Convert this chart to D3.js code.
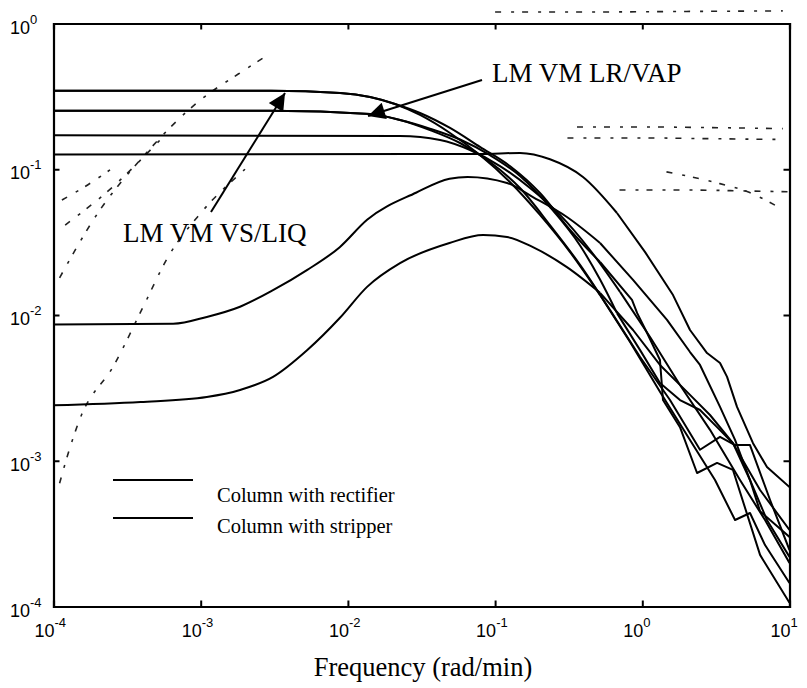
<!DOCTYPE html>
<html><head><meta charset="utf-8">
<script src="https://cdn.jsdelivr.net/npm/d3@7"></script>
<style>body{margin:0;background:#fff}svg{display:block}</style>
</head><body>
<svg id="c" width="807" height="688"></svg>
<script>
// ---- data ----
const xTicks = [1e-4, 1e-3, 1e-2, 1e-1, 1e0, 1e1];
const xTickExp = ["-4", "-3", "-2", "-1", "0", "1"];
const yTicks = [1e-4, 1e-3, 1e-2, 1e-1, 1e0];
const yTickExp = ["-4", "-3", "-2", "-1", "0"];
const xLabel = "Frequency (rad/min)";
const legendLabels = ["Column with rectifier", "Column with stripper"];
const noteVS = "LM VM VS/LIQ";
const noteLR = "LM VM LR/VAP";

const curveA = [[1e-4,.345],[3e-3,.345],[0.00884,.3334],[0.01413,.3131],[0.0209,.2804],[0.0309,.2357],[0.0494,.1773],[0.0789,.1253],[0.126,.0818],[0.2018,.0486],[0.323,.027],[0.5164,.0137],[0.826,.00653],[1.318,.00297],[2.109,.00139],[3.119,.000738],[4.266,.000392],[5.39,.000438],[6.82,.000264],[10,.000145]];
const curveB = [[1e-4,.252],[3e-3,.252],[0.01413,.2394],[0.0226,.2178],[0.0361,.1858],[0.0578,.1514],[0.0923,.1121],[0.1476,.0744],[0.236,.0414],[0.3776,.0221],[0.604,.0108],[0.966,.00515],[1.542,.00261],[2.466,.00119],[3.373,.00146],[4.266,.00128],[5.39,.00128],[7.38,.000538],[10,.000244]];
const curveC = [[1e-4,.171],[0.0226,.169],[0.0423,.1588],[0.0676,.1355],[0.108,.1052],[0.1726,.0744],[0.276,.0486],[0.4416,.0279],[0.706,.0144],[1.129,.00707],[1.803,.00331],[2.884,.00163],[4.61,.000738],[6.82,.000392],[10,.000199]];
const curveD = [[1e-4,.126],[0.0309,.1273],[0.0789,.1273],[0.1476,.1294],[0.236,.117],[0.3954,.0885],[0.673,.0501],[1.045,.027],[1.617,.0137],[2.109,.00789],[2.753,.00548],[3.373,.00469],[3.766,.00376],[4.40,.00234],[5.65,.00132],[7.03,.000906],[10,.00066]];
const curveE = [[1e-4,.0086],[6.5e-4,.0087],[1.1e-3,.0097],[1.85e-3,.0114],[3.1e-3,.0148],[5.3e-3,.0204],[8.8e-3,.0292],[0.0135,.045],[0.029,.069],[0.049,.086],[0.065,.0885],[0.1205,.0805],[0.1807,.0645],[0.3076,.047],[0.5164,.0312],[0.865,.0174],[1.472,.00925],[2.109,.00557],[2.466,.00454],[3.373,.00234],[4.266,.00139],[5.39,.000738],[6.31,.00045],[10,.0003]];
const curveF = [[1e-4,.0024],[3.9e-4,.00253],[1.1e-3,.00274],[1.85e-3,.00306],[3.1e-3,.00376],[5.3e-3,.00575],[8.8e-3,.00953],[0.0135,.0156],[0.0226,.0227],[0.049,.0312],[0.083,.0354],[0.1205,.0343],[0.1807,.0292],[0.3076,.0213],[0.5164,.0142],[0.865,.00789],[1.318,.00454],[2.109,.00283],[2.884,.00206],[4.13,.00132],[6.31,.00063],[10,.000335]];
const curveG = [[1e-4,.345],[3e-3,.345],[0.00884,.3334],[0.01413,.3131],[0.0209,.2804],[0.0309,.2432],[0.0494,.1919],[0.0789,.1422],[0.126,.1052],[0.2018,.0687],[0.323,.0383],[0.5164,.0231],[0.851,.0127],[0.923,.0103],[1.078,.00753],[1.318,.00491],[1.382,.00261],[1.803,.0017],[2.355,.000824],[3.22,.000966],[4.13,.000865],[6.31,.000226],[10,.000106]];
const curveH = [[1e-4,.252],[3e-3,.252],[0.01413,.2394],[0.0226,.2178],[0.0361,.19],[0.0578,.16],[0.0923,.125],[0.1476,.09],[0.236,.055],[0.3776,.03],[0.5164,.0175],[0.673,.0103],[0.966,.00574],[1.318,.00342],[1.803,.00261],[2.466,.00223],[3.22,.0017],[4.13,.00132],[5.39,.000738],[7.03,.000392],[10,.000219]];
const curves = [curveA, curveB, curveC, curveD, curveE, curveF, curveG, curveH];

// faint dashed traces (scanned grey lines)
const ghost1 = [[1.1e-4,.0007],[1.25e-4,.0011],[1.5e-4,.0019],[2.6e-4,.0046],[4e-4,.011],[6e-4,.025],[1e-3,.05],[2e-3,.1]];
const ghost2 = [[1.1e-4,.018],[2e-4,.05],[4e-4,.12],[1e-3,.3],[1.8e-3,.45],[2.8e-3,.6]];
const ghost3 = [[0.36,.195],[1,.195],[3,.193],[9,.19]];
const ghost4 = [[0.31,.164],[1,.164],[3,.162],[9,.16]];
const ghost5 = [[0.7,.072],[2,.072],[5,.071],[10,.07]];
const ghost6 = [[1.46,.096],[3,.082],[5.2,.07],[9,.053]];
const ghost7 = [[0.1,1.2],[0.5,1.2],[2,1.21],[9,1.22]];
const ghost8 = [[1.14e-4,.0615],[1.6e-4,.075],[2.42e-4,.099]];
const ghost9 = [[1.2e-4,.0414],[2.5e-4,.075],[5.3e-4,.159]];
const ghosts = [ghost1, ghost2, ghost3, ghost4, ghost5, ghost6, ghost7, ghost8, ghost9];

// split point between the smooth low-frequency part and the sampled, polygonal high-frequency part
const splitFreq = 0.8;

// ---- drawing ----
const svg = d3.select("#c");
const L = 53.5, R = 789.5, T = 23.5, B = 606.5;
const x = d3.scaleLog().domain([1e-4, 1e1]).range([L, R]);
const y = d3.scaleLog().domain([1e-4, 1e0]).range([B, T]);

const smooth = d3.line().x(d => x(d[0])).y(d => y(d[1])).curve(d3.curveMonotoneX);
const poly = d3.line().x(d => x(d[0])).y(d => y(d[1])).curve(d3.curveLinear);

svg.append("clipPath").attr("id", "plotclip").append("rect")
  .attr("x", L).attr("y", 0).attr("width", R - L).attr("height", B);

const g = svg.append("g");
g.selectAll("path.ghost").data(ghosts).join("path")
  .attr("class", "ghost").attr("d", smooth)
  .attr("fill", "none").attr("stroke", "#222").attr("stroke-width", 1.6)
  .attr("stroke-dasharray", "6,10,3,8");

const gc = svg.append("g").attr("clip-path", "url(#plotclip)");
curves.forEach(c => {
  const k = c.findIndex(d => d[0] >= splitFreq);
  const lo = c.slice(0, k);
  const hi = c.slice(k - 1);
  gc.append("path").datum(lo).attr("d", smooth)
    .attr("fill", "none").attr("stroke", "#000").attr("stroke-width", 2);
  gc.append("path").datum(hi).attr("d", poly)
    .attr("fill", "none").attr("stroke", "#000").attr("stroke-width", 2)
    .attr("stroke-linejoin", "round");
});

// axes with inside ticks on all sides
const tickLen = 6;
const fmt = () => "";
svg.append("g").attr("transform", `translate(0,${B})`)
  .call(d3.axisBottom(x).tickValues(xTicks).tickSize(-tickLen).tickFormat(fmt));
svg.append("g").attr("transform", `translate(0,${T})`)
  .call(d3.axisTop(x).tickValues(xTicks).tickSize(-tickLen).tickFormat(fmt));
svg.append("g").attr("transform", `translate(${L},0)`)
  .call(d3.axisLeft(y).tickValues(yTicks).tickSize(-tickLen).tickFormat(fmt));
svg.append("g").attr("transform", `translate(${R},0)`)
  .call(d3.axisRight(y).tickValues(yTicks).tickSize(-tickLen).tickFormat(fmt));
svg.selectAll(".domain").attr("stroke", "#000").attr("stroke-width", 2.2);
svg.selectAll(".tick line").attr("stroke", "#000").attr("stroke-width", 2);

// tick labels
const sans = "'Liberation Sans', Arial, sans-serif";
const serif = "'Liberation Serif', 'Times New Roman', serif";
xTicks.forEach((t, i) => {
  const tx = svg.append("text").attr("x", x(t) - 19).attr("y", B + 30)
    .attr("font-family", sans).attr("font-size", 18);
  tx.append("tspan").text("10");
  tx.append("tspan").attr("dy", -10).attr("font-size", 13).text(xTickExp[i]);
});
yTicks.forEach((t, i) => {
  const ty = svg.append("text").attr("x", 10).attr("y", y(t) + 10)
    .attr("font-family", sans).attr("font-size", 18);
  ty.append("tspan").text("10");
  ty.append("tspan").attr("dy", -10).attr("font-size", 13).text(yTickExp[i]);
});

svg.append("text").attr("x", 423).attr("y", 676).attr("text-anchor", "middle")
  .attr("font-family", serif).attr("font-size", 26.5).text(xLabel);

// legend
legendLabels.forEach((lab, i) => {
  const ly = [480, 518][i];
  svg.append("line").attr("x1", 113).attr("x2", 193).attr("y1", ly).attr("y2", ly)
    .attr("stroke", "#000").attr("stroke-width", 2);
  svg.append("text").attr("x", 217).attr("y", [502, 533][i])
    .attr("font-family", serif).attr("font-size", 20.5).text(lab);
});

// annotations with arrows
svg.append("defs").append("marker").attr("id", "ah").attr("viewBox", "0 0 10 10")
  .attr("refX", 10).attr("refY", 5).attr("markerWidth", 21).attr("markerHeight", 17)
  .attr("markerUnits", "userSpaceOnUse").attr("orient", "auto")
  .append("path").attr("d", "M0,0 L10,5 L0,10 z").attr("fill", "#000");

svg.append("line").attr("x1", 211).attr("y1", 212).attr("x2", 285).attr("y2", 93)
  .attr("stroke", "#000").attr("stroke-width", 2).attr("marker-end", "url(#ah)");
svg.append("text").attr("x", 123).attr("y", 242).attr("font-family", serif)
  .attr("font-size", 27).text(noteVS);

svg.append("line").attr("x1", 482).attr("y1", 80).attr("x2", 368).attr("y2", 116)
  .attr("stroke", "#000").attr("stroke-width", 2).attr("marker-end", "url(#ah)");
svg.append("text").attr("x", 492).attr("y", 82).attr("font-family", serif)
  .attr("font-size", 27).text(noteLR);
</script>
</body></html>
